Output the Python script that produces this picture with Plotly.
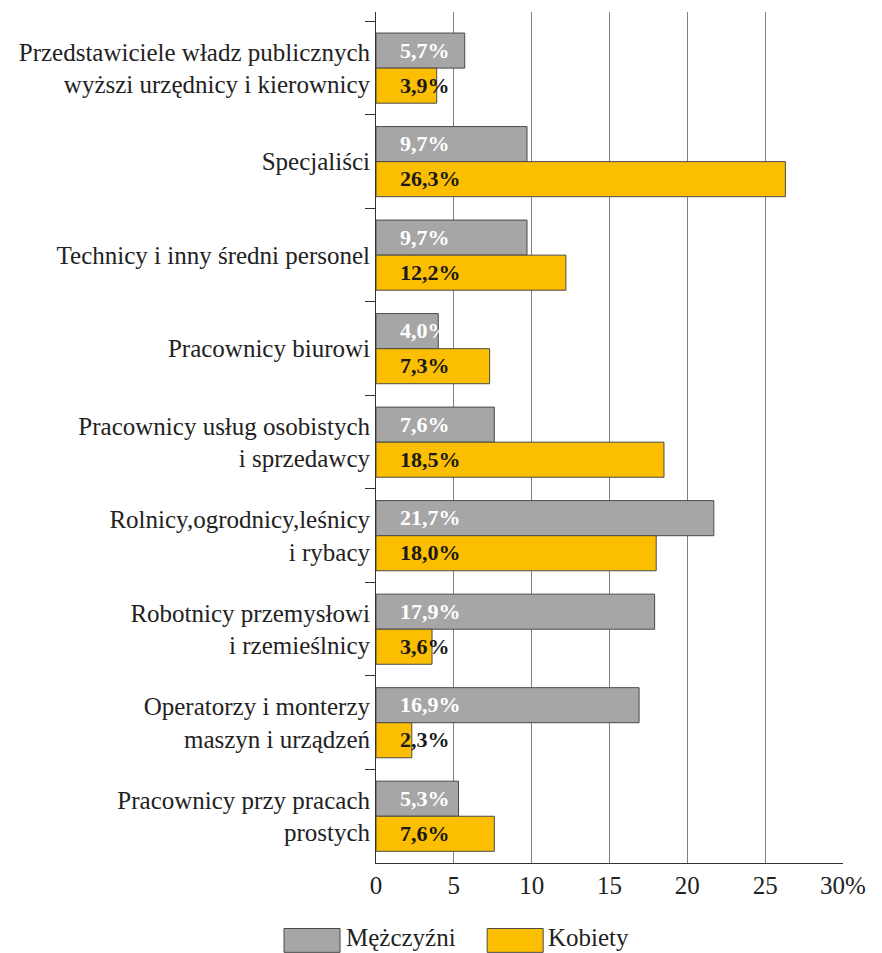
import plotly.graph_objects as go

categories = [
    "Przedstawiciele władz publicznych<br>wyższi urzędnicy i kierownicy",
    "Specjaliści",
    "Technicy i inny średni personel",
    "Pracownicy biurowi",
    "Pracownicy usług osobistych<br>i sprzedawcy",
    "Rolnicy,ogrodnicy,leśnicy<br>i rybacy",
    "Robotnicy przemysłowi<br>i rzemieślnicy",
    "Operatorzy i monterzy<br>maszyn i urządzeń",
    "Pracownicy przy pracach<br>prostych",
]
men = [5.7, 9.7, 9.7, 4.0, 7.6, 21.7, 17.9, 16.9, 5.3]
women = [3.9, 26.3, 12.2, 7.3, 18.5, 18.0, 3.6, 2.3, 7.6]
series_names = ["Mężczyźni", "Kobiety"]
tick_vals = [0, 5, 10, 15, 20, 25, 30]
tick_text = ["0", "5", "10", "15", "20", "25", "30%"]

GRAY = "#a6a6a6"
YELLOW = "#fbbe00"
FONT = "'Liberation Serif', 'Times New Roman', serif"

def fmt(v):
    return f"{v:.1f}".replace(".", ",") + "%"

fig = go.Figure()
fig.add_trace(go.Bar(y=categories, x=men, orientation="h", name=series_names[0],
                     marker=dict(color=GRAY, line=dict(color="#4a4a4a", width=1)),
                     hoverinfo="x+y"))
fig.add_trace(go.Bar(y=categories, x=women, orientation="h", name=series_names[1],
                     marker=dict(color=YELLOW, line=dict(color="#4a4a4a", width=1)),
                     hoverinfo="x+y"))

annotations = []
for c, m, w in zip(categories, men, women):
    annotations.append(dict(x=1.4, y=c, xref="x", yref="y", text=fmt(m), showarrow=False,
                            xanchor="left", yanchor="middle", yshift=18,
                            font=dict(family=FONT, size=22, color="white", weight="bold")))
    annotations.append(dict(x=1.4, y=c, xref="x", yref="y", text=fmt(w), showarrow=False,
                            xanchor="left", yanchor="middle", yshift=-17,
                            font=dict(family=FONT, size=22, color="#1a1a1a", weight="bold")))

# custom legend
shapes = []
leg = [(-0.197, -0.077, GRAY, series_names[0], -0.0685), (0.238, 0.358, YELLOW, series_names[1], 0.364)]
for x0, x1, col, name, tx in leg:
    shapes.append(dict(type="rect", xref="paper", yref="paper", x0=x0, x1=x1, y0=-0.077, y1=-0.105,
                       fillcolor=col, line=dict(color="#4a4a4a", width=1)))
    annotations.append(dict(x=tx, y=-0.088, xref="paper", yref="paper", text=name, showarrow=False,
                            xanchor="left", yanchor="middle",
                            font=dict(family=FONT, size=25, color="#222")))

fig.update_layout(
    width=882, height=953,
    margin=dict(l=376, r=39, t=12, b=90, autoexpand=False),
    paper_bgcolor="white", plot_bgcolor="white",
    barmode="group", bargap=0.25, bargroupgap=0,
    showlegend=False,
    font=dict(family=FONT, size=25, color="#222"),
    annotations=annotations, shapes=shapes,
    xaxis=dict(range=[0, 30], tickvals=tick_vals, ticktext=tick_text,
               showgrid=True, gridcolor="#7f7f7f", gridwidth=1,
               showline=True, linecolor="#333", linewidth=1,
               ticks="", ticklen=0,
               tickfont=dict(family=FONT, size=25, color="#222"), zeroline=False,
               automargin=False),
    yaxis=dict(categoryorder="array", categoryarray=categories,
               range=[8.5, -0.6], showgrid=False,
               showline=True, linecolor="#333", linewidth=1,
               ticks="outside", tickson="boundaries", ticklen=10, tickcolor="#333",
               tickfont=dict(family=FONT, size=25, color="#222"),
               automargin=False),
)

fig.write_html("out.html", config={"displayModeBar": False},
               post_script="document.body.style.margin='0';document.body.style.overflow='hidden';")
